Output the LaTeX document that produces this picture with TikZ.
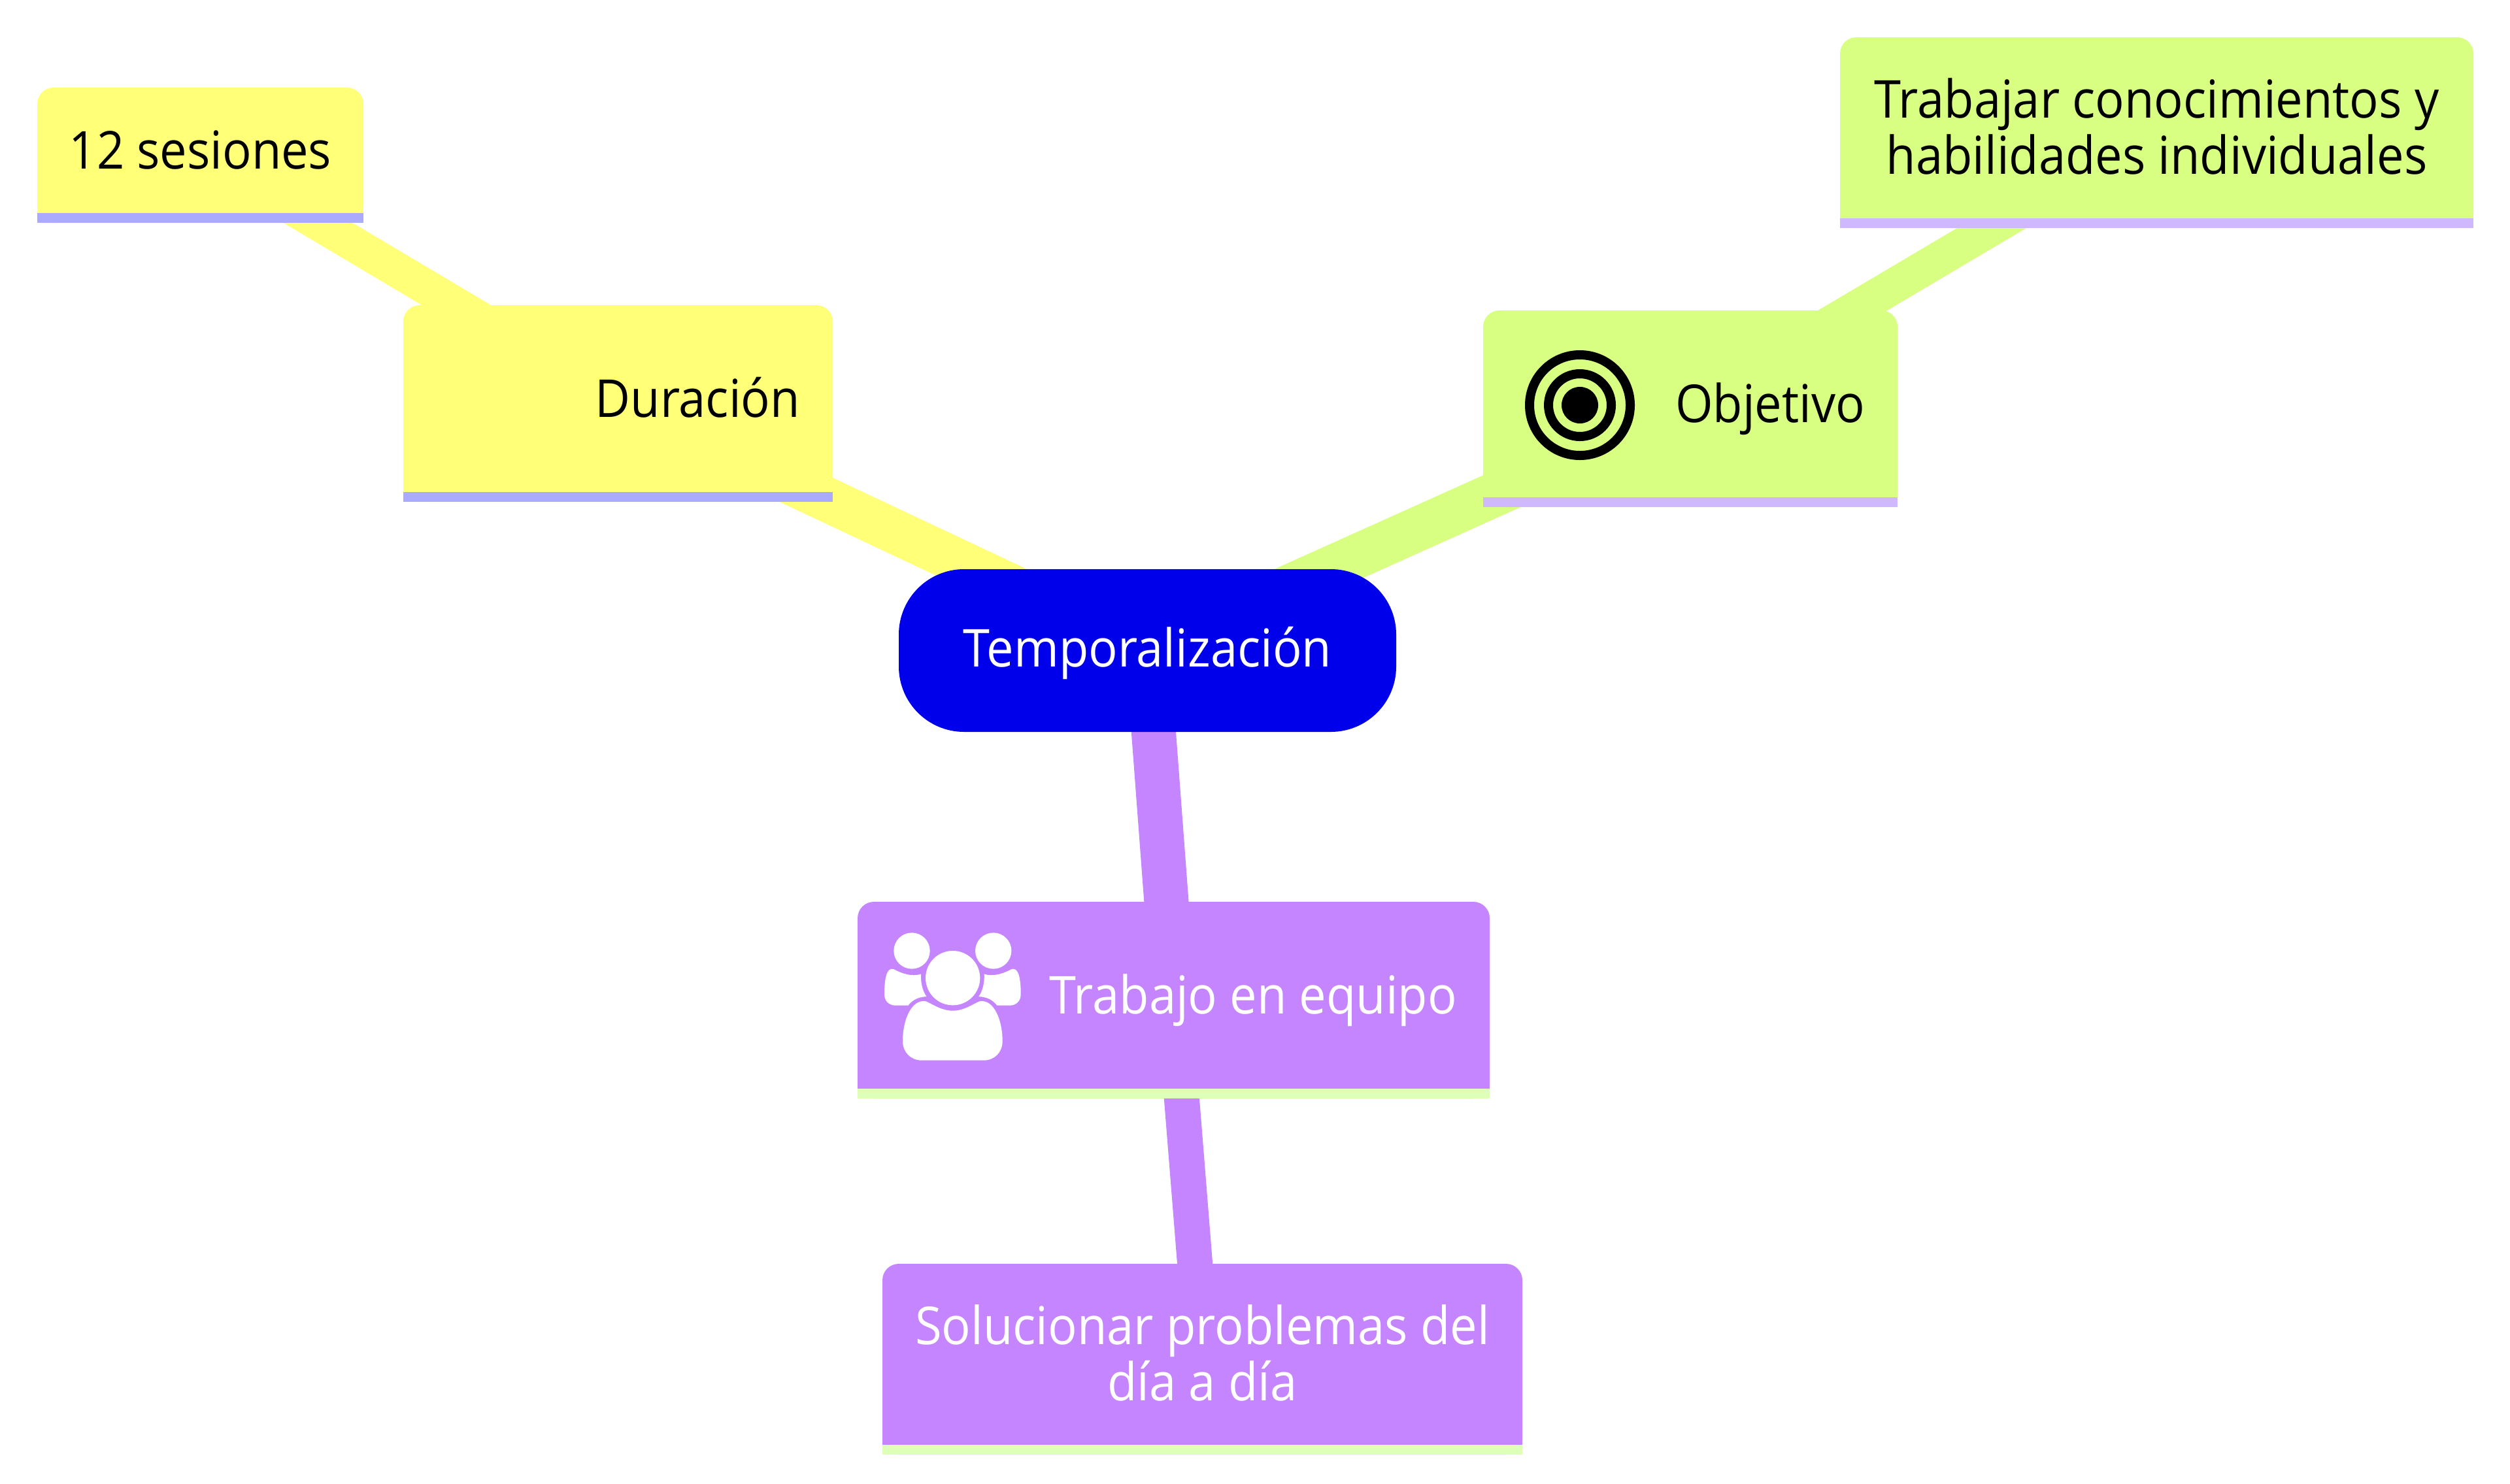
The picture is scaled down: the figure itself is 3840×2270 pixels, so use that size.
\documentclass[tikz,border=0pt]{standalone}
\usepackage{fontspec}
\setmainfont{Open Sans}[FakeStretch=0.925]
\usetikzlibrary{backgrounds}

\definecolor{rootblue}{HTML}{0000EB}
\definecolor{yellowbranch}{HTML}{FFFF78}
\definecolor{yellowband}{HTML}{AAAAFF}
\definecolor{greenbranch}{HTML}{D8FF82}
\definecolor{greenband}{HTML}{D0B8FF}
\definecolor{purplebranch}{HTML}{C485FF}
\definecolor{purpleband}{HTML}{DDFFB8}

\tikzset{
    mapfont/.style={font=\fontsize{20pt}{21.4pt}\selectfont},
    rootnode/.style={mapfont, fill=rootblue, text=white, rounded corners=25pt, inner sep=0pt, outer sep=0pt, minimum width=190.25pt, minimum height=62.25pt, text height=14.25pt, text depth=2pt},
    leafnode/.style={mapfont, rounded corners=6.25pt, inner sep=0pt, outer sep=0pt, align=center, text height=14.25pt, text depth=3.75pt},
    iconnode/.style={leafnode, align=flush right, inner xsep=12.5pt},
    mainedge/.style={line width=17pt},
    subedge/.style={line width=13.5pt},
    edgeend/.style={yshift=0.875pt},
}

\newcommand{\bandline}[3]{
    \fill[#2] (#1.south west) ++ (0,-40) rectangle (#1.south east);
    \fill[#3] (#1.south west) ++ (0,-15) rectangle (#1.south east);
}
\newcommand{\sideperson}{
    \fill[white] (225,225) circle (83);
    \fill[white] (143,310) .. controls (180,330) and (225,345) .. (267,332) .. controls (265,375) and (275,410) .. (292,435) .. controls (255,437) and (228,450) .. (208,476) -- (150,476) .. controls (120,476) and (99,455) .. (99,425) .. controls (99,370) and (105,295) .. (143,310) -- cycle;
}

\begin{document}
\begin{tikzpicture}[x=0.25pt, y=-0.25pt]

        \useasboundingbox (0,0) rectangle (3840,2270);

        \node[rootnode] (root) at (1755.5,995.5) {Temporalización};

        \node[leafnode, fill=yellowbranch, minimum width=164.25pt, minimum height=75.25pt, iconnode, text width=139.25pt] (duracion) at (945.5,617.5) {Duración};
        \node[leafnode, fill=yellowbranch, minimum width=124.75pt, minimum height=51.75pt] (sesiones) at (306.5,237.5) {12 sesiones};
        \node[leafnode, fill=greenbranch, minimum width=158.5pt, minimum height=75.25pt, iconnode, text width=133.5pt] (objetivo) at (2586,625.5) {Objetivo};
        \node[leafnode, fill=greenbranch, minimum width=242.25pt, minimum height=73pt, text height=35.5pt] (trabajar) at (3299.5,203) {Trabajar conocimientos y\\habilidades individuales};
        \node[leafnode, fill=purplebranch, text=white, minimum width=241.75pt, minimum height=75.25pt, iconnode, text width=216.75pt] (equipo) at (1795.5,1530.5) {Trabajo en equipo};
        \node[leafnode, fill=purplebranch, text=white, minimum width=244.75pt, minimum height=73pt, text height=35.5pt] (solucionar) at (1839.5,2080) {Solucionar problemas del\\día a día};

        \bandline{duracion}{yellowbranch}{yellowband}
        \bandline{sesiones}{yellowbranch}{yellowband}
        \bandline{objetivo}{greenbranch}{greenband}
        \bandline{trabajar}{greenbranch}{greenband}
        \bandline{equipo}{purplebranch}{purpleband}
        \bandline{solucionar}{purplebranch}{purpleband}

        \begin{pgfonlayer}{background}
            \draw[mainedge, yellowbranch] (root.center) -- ([edgeend]duracion.center);
            \draw[mainedge, greenbranch] (root.center) -- ([edgeend]objetivo.center);
            \draw[mainedge, purplebranch] (root.center) -- ([edgeend]equipo.center);
            \draw[subedge, yellowbranch] ([edgeend]duracion.center) -- ([edgeend]sesiones.center);
            \draw[subedge, greenbranch] ([edgeend]objetivo.center) -- ([edgeend]trabajar.center);
            \draw[subedge, purplebranch] ([edgeend]equipo.center) -- ([edgeend]solucionar.center);
        \end{pgfonlayer}

        \begin{scope}[shift={(2417,620)}]
            \draw[line width=3.5pt] (0,0) circle (77) circle (48);
            \fill (0,0) circle (28);
        \end{scope}

        \begin{scope}[shift={(1320,1380)}, scale=1/3]
            \sideperson
            \fill[white] (413,350) circle (125);
            \fill[white] (270,728) .. controls (220,728) and (183,690) .. (183,640) .. controls (183,540) and (225,445) .. (290,457) .. controls (320,470) and (360,500) .. (413,500) .. controls (465,500) and (505,470) .. (535,457) .. controls (600,445) and (641,540) .. (641,640) .. controls (641,690) and (605,728) .. (555,728) -- cycle;
        \end{scope}
        \begin{scope}[shift={(1594.7,1380)}, xscale=-1/3, yscale=1/3]
            \sideperson
        \end{scope}

    \end{tikzpicture}
\end{document}
